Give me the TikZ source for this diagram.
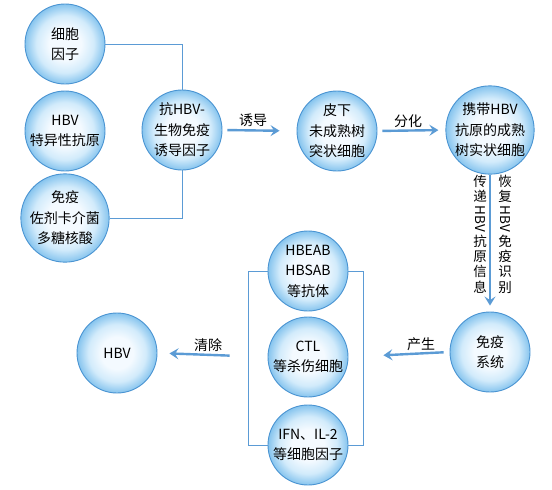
\documentclass[tikz,border=0pt]{standalone}
\usepackage{fontspec}
\setmainfont{Noto Sans CJK SC}
\usetikzlibrary{arrows.meta}
\definecolor{cin}{HTML}{F4FAFF}
\definecolor{cmid}{HTML}{D2EBFB}
\definecolor{cout}{HTML}{86C4EE}
\definecolor{cborder}{HTML}{4A94D2}
\definecolor{arrowc}{HTML}{5B9BD5}
\pgfdeclareradialshading{bubble}{\pgfpoint{0bp}{0bp}}{color(0bp)=(cin); color(10bp)=(cin); color(18bp)=(cmid); color(25bp)=(cout); color(50bp)=(cout)}
\tikzset{
  bub/.style={circle, draw=cborder, line width=0.9pt, shading=bubble, minimum size=80pt, inner sep=0pt, align=center, font=\fontsize{14}{20.5}\selectfont},
  flow/.style={line width=2.4pt, draw=arrowc, -{Stealth[length=9pt,width=11pt,inset=3.5pt]}},
  link/.style={draw=arrowc, line width=0.8pt},
  lab/.style={font=\fontsize{14}{17}\selectfont, inner sep=0pt}
}
\begin{document}
\begin{tikzpicture}[x=1pt,y=-1pt]
\useasboundingbox[fill=white] (0,0) rectangle (552,490);
\node[bub] (A) at (65,44) {细胞\\因子};
\node[bub] (B) at (65,131) {HBV\\特异性抗原};
\node[bub] (C) at (65,218) {免疫\\佐剂卡介菌\\多糖核酸};
\node[bub] (D) at (182,130) {抗HBV-\\生物免疫\\诱导因子};
\node[bub] (E) at (337,131) {皮下\\未成熟树\\突状细胞};
\node[bub] (F) at (490,130) {携带HBV\\抗原的成熟\\树实状细胞};
\node[bub] (G) at (490,352) {免疫\\系统};
\node[bub] (H1) at (308,271) {HBEAB\\HBSAB\\等抗体};
\node[bub] (H2) at (308,357) {CTL\\等杀伤细胞};
\node[bub] (H3) at (308,445) {IFN、IL-2\\等细胞因子};
\node[bub] (I) at (117,353) {HBV};

\draw[link] (A.east) -| (D.north);
\draw[link] (C.east) -| (D.south);
\draw[link] (H1.west) -- ++(-19,0) |- (H3.west);
\draw[link] (H1.east) -- ++(15,0) |- (H3.east);

\draw[flow, shorten <=5pt, shorten >=17pt] (D.east) -- (E.west);
\node[lab] (l1) at (253,120) {诱导};
\draw[flow, shorten <=5pt, shorten >=7pt] (E.east) -- (F.west);
\node[lab] (l2) at (408,121) {分化};
\draw[flow, shorten >=6pt] (F.south) -- (G.north);
\node[lab, font=\fontsize{13.5}{13.5}\selectfont] (l3) at (480,234) {\shortstack{传\\递\\\rotatebox[origin=c]{-90}{HBV}\\抗\\原\\信\\息}};
\node[lab, font=\fontsize{13.5}{13.5}\selectfont] (l4) at (505,234) {\shortstack{恢\\复\\\rotatebox[origin=c]{-90}{HBV}\\免\\疫\\识\\别}};
\draw[flow, shorten <=6pt, shorten >=35pt] (G.west) -- (H2.east);
\node[lab] (l5) at (421,344) {产生};
\draw[flow, shorten <=38pt, shorten >=12pt] (H2.west) -- (I.east);
\node[lab] (l6) at (208,345) {清除};
\end{tikzpicture}
\end{document}
